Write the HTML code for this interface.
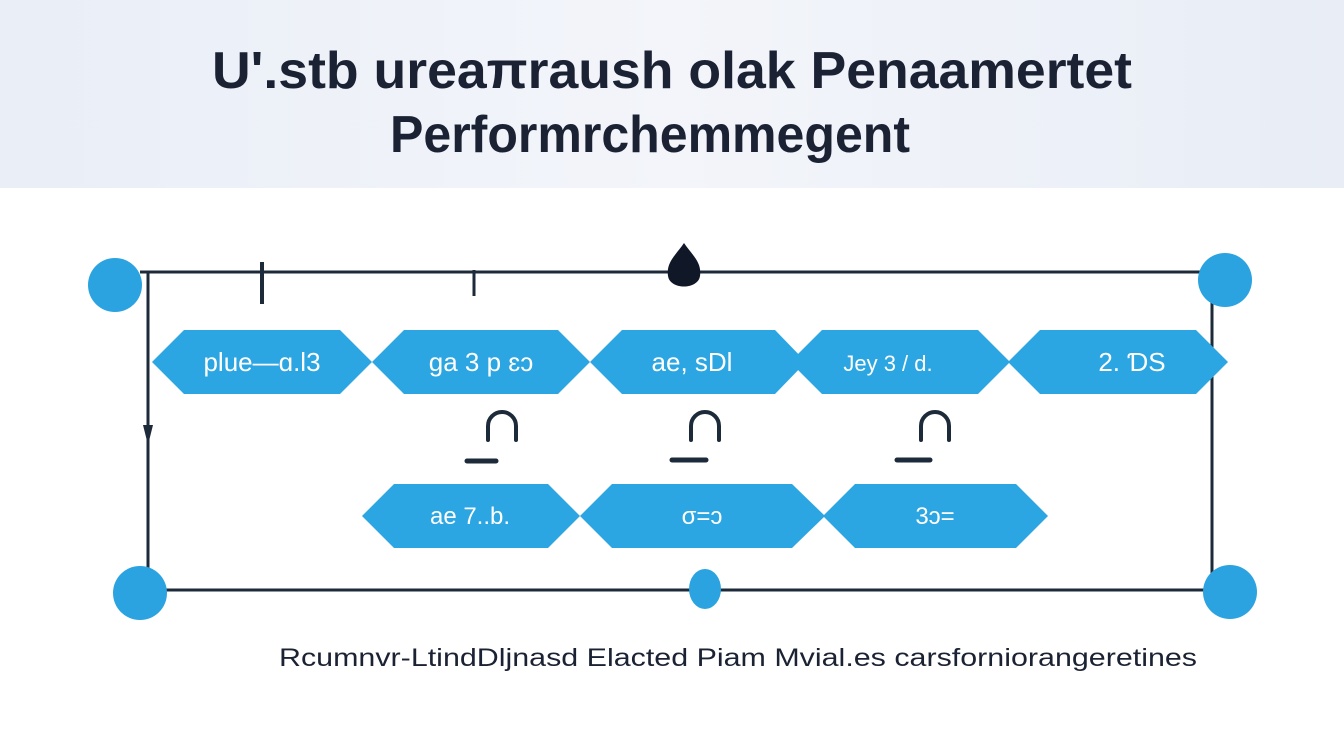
<!DOCTYPE html>
<html><head><meta charset="utf-8"><style>
body{margin:0;width:1344px;height:750px;background:#fff;overflow:hidden;font-family:"Liberation Sans",sans-serif}
</style></head><body>
<svg width="1344" height="750" xmlns="http://www.w3.org/2000/svg">
<defs><linearGradient id="hd" x1="0" x2="1"><stop offset="0" stop-color="#e9eef7"/><stop offset="0.5" stop-color="#f3f5fa"/><stop offset="1" stop-color="#e8edf6"/></linearGradient></defs>
<rect x="0" y="0" width="1344" height="188" fill="url(#hd)"/>
<text x="672" y="88" text-anchor="middle" font-size="52" font-weight="bold" fill="#1b2233" font-family="Liberation Sans, sans-serif" textLength="920" lengthAdjust="spacingAndGlyphs">U'.stb ureaπraush olak Penaamertet</text>
<text x="650" y="152" text-anchor="middle" font-size="52" font-weight="bold" fill="#1b2233" font-family="Liberation Sans, sans-serif" textLength="520" lengthAdjust="spacingAndGlyphs">Performrchemmegent</text>
<g stroke="#1c2a3a" stroke-width="3" fill="none">
<line x1="140" y1="272" x2="1212" y2="272"/>
<line x1="148" y1="272" x2="148" y2="590"/>
<line x1="160" y1="590" x2="1210" y2="590"/>
<line x1="1212" y1="290" x2="1212" y2="578"/>
<line x1="262" y1="262" x2="262" y2="304" stroke-width="4"/>
<line x1="474" y1="270" x2="474" y2="296"/>
</g>
<polygon points="143,425 153,425 148,445" fill="#1c2a3a"/>
<path d="M684,243 C676,255 666,262 668,276 C670,290 698,290 700,276 C702,262 692,255 684,243Z" fill="#101828"/>
<g fill="#2aa3e0">
<circle cx="115" cy="285" r="27"/><circle cx="1225" cy="280" r="27"/>
<circle cx="140" cy="593" r="27"/><circle cx="1230" cy="592" r="27"/>
<ellipse cx="705" cy="589" rx="16" ry="20"/>
</g>
<g fill="#2ba6e2">
<polygon points="152,362 184,330 340,330 372,362 340,394 184,394"/>
<polygon points="372,362 404,330 558,330 590,362 558,394 404,394"/>
<polygon points="590,362 622,330 775,330 806,362 775,394 622,394"/>
<polygon points="790,362 822,330 978,330 1010,362 978,394 822,394"/>
<polygon points="1008,362 1040,330 1196,330 1228,362 1196,394 1040,394"/>
<polygon points="362,516 394,484 548,484 580,516 548,548 394,548"/>
<polygon points="580,516 612,484 792,484 825,516 792,548 612,548"/>
<polygon points="823,516 855,484 1016,484 1048,516 1016,548 855,548"/>
</g>
<g fill="#fff" font-size="26" text-anchor="middle" font-family="Liberation Sans, sans-serif">
<text x="262" y="371">plue—ɑ.l3</text>
<text x="481" y="371">ga 3 p ɛɔ</text>
<text x="692" y="371">ae, sDl</text>
<text x="888" y="371" font-size="22">Jey  3 / d.</text>
<text x="1132" y="371">2. ƊS</text>
<text x="470" y="524" font-size="24">ae 7..b.</text>
<text x="702" y="524" font-size="24">σ=ɔ</text>
<text x="935" y="524" font-size="24">3ɔ=</text>
</g>
<g stroke="#1c2a3a" stroke-width="4" fill="none" stroke-linecap="round">
<path d="M488,440 V426 A14,14 0 0 1 516,426 V440"/>
<path d="M691,440 V426 A14,14 0 0 1 719,426 V440"/>
<path d="M921,440 V426 A14,14 0 0 1 949,426 V440"/>
<line x1="467" y1="461" x2="496" y2="461" stroke-width="5"/>
<line x1="672" y1="460" x2="706" y2="460" stroke-width="5"/>
<line x1="897" y1="460" x2="930" y2="460" stroke-width="5"/>
</g>
<text x="738" y="666" text-anchor="middle" font-size="25" fill="#1b2233" textLength="918" lengthAdjust="spacingAndGlyphs">Rcumnvr-LtindDljnasd Elacted Piam Mvial.es carsfornioranɡeretines</text>
</svg>
</body></html>
